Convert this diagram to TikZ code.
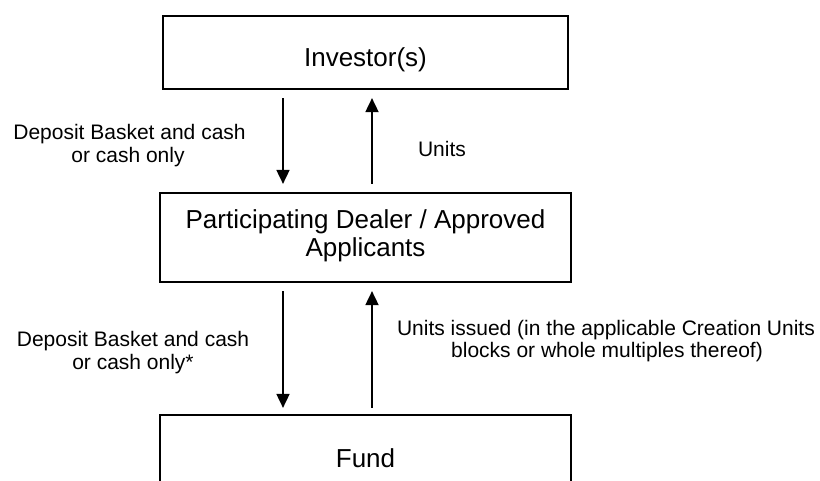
\documentclass[tikz,border=0pt]{standalone}
\usepackage{fontspec}
\setmainfont{Liberation Sans}
\usetikzlibrary{arrows.meta}
\begin{document}
\begin{tikzpicture}[x=1pt,y=-1pt,
  box/.style={draw, line width=2.2pt, inner sep=0pt, fill=white},
  big/.style={font=\fontsize{26}{29}\selectfont, inner sep=0pt, anchor=base},
  small/.style={font=\fontsize{21}{23}\selectfont, inner sep=0pt, anchor=base},
  arr/.style={line width=1.8pt, -{Triangle[length=14pt,width=13pt]}}
]
\clip (0,0) rectangle (820,481);
\fill[white] (0,0) rectangle (820,481);
% boxes
\node[box, minimum width=405pt, minimum height=73pt] (inv) at (365.5,52.5) {};
\node[box, minimum width=411pt, minimum height=89pt] (dealer) at (365.5,237.5) {};
\node[box, minimum width=411pt, minimum height=110pt] (fund) at (365.5,470) {};
% box texts
\node[big] (invtxt) at (365.5,67) {Investor(s)};
\node[big] (dealtxtA) at (365.5,229) {Participating Dealer / Approved};
\node[big] (dealtxtB) at (365.5,257) {Applicants};
\node[big] (fundtxt) at (365.5,467) {Fund};
% connectors
\draw[arr, shorten <=8pt, shorten >=8pt] ([xshift=-82.5pt]inv.south) -- ([xshift=-82.5pt]dealer.north);
\draw[arr, shorten <=8pt, shorten >=8pt] ([xshift=6.5pt]dealer.north) -- ([xshift=6.5pt]inv.south);
\draw[arr, shorten <=8pt, shorten >=6pt] ([xshift=-82.5pt]dealer.south) -- ([xshift=-82.5pt]fund.north);
\draw[arr, shorten <=6pt, shorten >=8pt] ([xshift=6.5pt]fund.north) -- ([xshift=6.5pt]dealer.south);
% labels
\node[small] (l1a) at (129.5,140) {Deposit Basket and cash};
\node[small] (l1b) at (128,163) {or cash only};
\node[small] (l2) at (442,157) {Units};
\node[small] (l3a) at (133,346) {Deposit Basket and cash};
\node[small] (l3b) at (133,369) {or cash only*};
\node[small] (l4a) at (606,335) {Units issued (in the applicable Creation Units};
\node[small] (l4b) at (607,357) {blocks or whole multiples thereof)};
\end{tikzpicture}
\end{document}
